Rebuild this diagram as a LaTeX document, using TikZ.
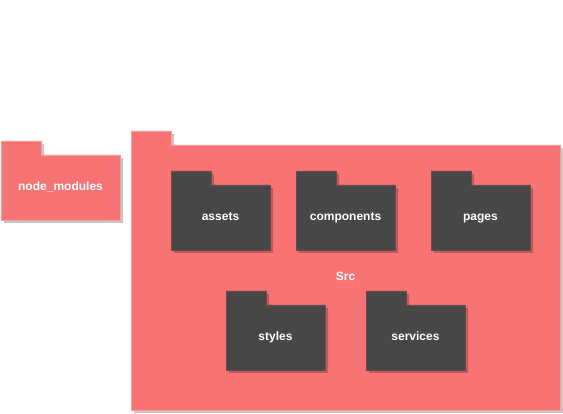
\documentclass[tikz,border=0pt]{standalone}
\usepackage{fontspec}
\setmainfont{Liberation Sans}
\definecolor{salmon}{HTML}{F87373}
\definecolor{salmonline}{HTML}{FF9A9A}
\definecolor{darkfold}{HTML}{474747}
\definecolor{darkline}{HTML}{6A4A4A}
\newcommand{\foldershape}[6]{%
  \fill[black,opacity=0.22] ({#1+3},{#2+3}) -- ({#1+43},{#2+3}) -- ({#1+43},{#2+17}) -- ({#1+#3+3},{#2+17}) -- ({#1+#3+3},{#2+#4+3}) -- ({#1+3},{#2+#4+3}) -- cycle;
  \draw[fill=#5,draw=#6,line width=0.8pt] (#1,#2) -- ({#1+40},#2) -- ({#1+40},{#2+14}) -- ({#1+#3},{#2+14}) -- ({#1+#3},{#2+#4}) -- (#1,{#2+#4}) -- cycle;
}
\tikzset{lbl/.style={text=white,font=\fontsize{12}{14}\selectfont\bfseries,inner sep=0pt,anchor=base}}
\begin{document}
\begin{tikzpicture}[x=1pt,y=-1pt]
\useasboundingbox[fill=white] (0,0) rectangle (563,414);
% node_modules
\foldershape{1}{141}{119}{79}{salmon}{salmonline}
\node[lbl] (nm) at (60.5,191) {node\_modules};
% Src
\foldershape{131}{131}{429}{279}{salmon}{salmonline}
\node[lbl] (src) at (345.5,281) {Src};
% inner folders
\foldershape{171}{171}{99}{79}{darkfold}{darkline}
\node[lbl] (assets) at (220.5,221) {assets};
\foldershape{296}{171}{99}{79}{darkfold}{darkline}
\node[lbl] (components) at (345.5,221) {components};
\foldershape{431}{171}{99}{79}{darkfold}{darkline}
\node[lbl] (pages) at (480.5,221) {pages};
\foldershape{226}{291}{99}{79}{darkfold}{darkline}
\node[lbl] (styles) at (275.5,341) {styles};
\foldershape{366}{291}{99}{79}{darkfold}{darkline}
\node[lbl] (services) at (415.5,341) {services};
\end{tikzpicture}
\end{document}
